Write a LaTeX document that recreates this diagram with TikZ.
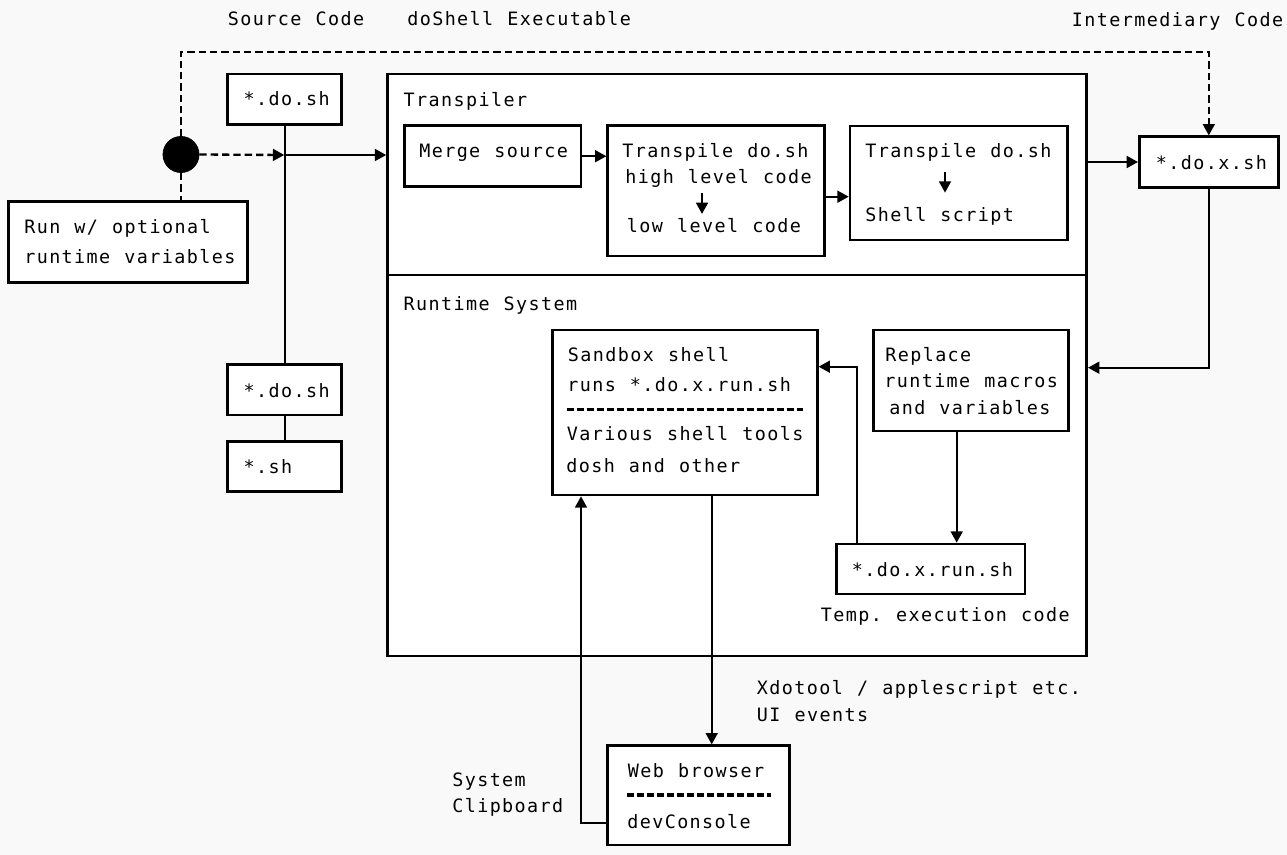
\documentclass[tikz,border=0pt]{standalone}
\usepackage{fontspec}
\newfontfamily\dgfont{DejaVu Sans Mono}[LetterSpace=7.7,WordSpace=1.13]
\usetikzlibrary{arrows.meta,fit}
\definecolor{bg}{RGB}{249,249,249}
\begin{document}
\begin{tikzpicture}[x=0.75pt,y=-0.75pt,
  box/.style={draw=black, line width=1.9pt, fill=white, inner sep=0pt},
  lbl/.style={inner sep=0pt, anchor=base west, font=\dgfont\fontsize{13.8pt}{16pt}\selectfont\frenchspacing},
  conn/.style={line width=1.75pt},
  arr/.style={conn, -{Triangle[length=8.5pt,width=8.8pt]}},
  dsh/.style={dash pattern=on 5.5pt off 3pt},
  sepline/.style={line width=2.3pt, dash pattern=on 5.6pt off 1.9pt}
]
\fill[bg] (0,0) rectangle (1287,855);
\useasboundingbox (0,0) rectangle (1287,855);

% boxes
\node[box, fit={(387.5,74) (1086.7,656)}] (big) {};
\coordinate (dv) at (0,275);
\draw[line width=1.9pt] (big.west |- dv) -- (big.east |- dv);
\node[box, fit={(227.7,74) (341.7,124.3)}] (src1) {};
\node[box, fit={(8.3,201.7) (247.7,282.3)}] (run) {};
\node[box, fit={(227.7,364.3) (341.7,415)}] (src2) {};
\node[box, fit={(227.7,441.7) (341.7,491.7)}] (src3) {};
\node[box, fit={(404.3,125.7) (581,186.7)}] (merge) {};
\node[box, fit={(607.7,125.7) (824.3,256)}] (trans) {};
\node[box, fit={(850,126) (1067.3,240)}] (shell) {};
\node[box, fit={(1139.3,136.7) (1278.3,187.3)}] (dox) {};
\node[box, fit={(552.7,330) (817.3,495)}] (sand) {};
\node[box, fit={(873.3,330) (1068.7,431)}] (repl) {};
\node[box, fit={(836.7,544) (1025,594)}] (runsh) {};
\node[box, fit={(607.7,745.7) (789.3,845)}] (web) {};
\node[circle, fill=black, draw=black, line width=0.6pt, inner sep=0pt, minimum size=27pt] (dot) at (181,154.5) {};

% labels
\node[lbl] (lsrc) at (227.7,26) {Source Code};
\node[lbl] (lexe) at (407,26) {doShell Executable};
\node[lbl] (lint) at (1071.7,26.7) {Intermediary Code};
\node[lbl] (tsrc1) at (243.3,106) {*.do.sh};
\node[lbl] (trun1) at (24,233.3) {Run w/ optional};
\node[lbl] (trun2) at (24,264) {runtime variables};
\node[lbl] (tsrc2) at (243.3,397.3) {*.do.sh};
\node[lbl] (tsrc3) at (243.3,473.3) {*.sh};
\node[lbl] (ttrp) at (403.3,106.7) {Transpiler};
\node[lbl] (trt) at (403.3,310.7) {Runtime System};
\node[lbl] (tmerge) at (419,157.7) {Merge source};
\node[lbl] (ttr1) at (622,158) {Transpile do.sh};
\node[lbl] (ttr2) at (625,183.3) {high level code};
\node[lbl] (ttr3) at (626.7,232.7) {low level code};
\node[lbl] (tsh1) at (865,157.7) {Transpile do.sh};
\node[lbl] (tsh2) at (865,221.7) {Shell script};
\node[lbl] (tdox) at (1155.7,169.3) {*.do.x.sh};
\node[lbl] (tsb1) at (567.7,361.7) {Sandbox shell};
\node[lbl] (tsb2) at (567,391) {runs *.do.x.run.sh};
\node[lbl] (tsb3) at (566.7,440) {Various shell tools};
\node[lbl] (tsb4) at (566,472.7) {dosh and other};
\node[lbl] (trp1) at (885,361.7) {Replace};
\node[lbl] (trp2) at (884,387.7) {runtime macros};
\node[lbl] (trp3) at (889,414) {and variables};
\node[lbl] (trs) at (851.7,576) {*.do.x.run.sh};
\node[lbl] (ttemp) at (820.6,621.7) {Temp. execution code};
\node[lbl] (twb1) at (627.7,777.7) {Web browser};
\node[lbl] (twb2) at (627,828.3) {devConsole};
\node[lbl] (txd1) at (756.7,694) {Xdotool / applescript etc.};
\node[lbl] (txd2) at (756.7,721.7) {UI events};
\node[lbl] (tcl1) at (452,786.7) {System};
\node[lbl] (tcl2) at (452,812.7) {Clipboard};

% separators inside boxes
\coordinate (s1a) at (566.7,409.3); \coordinate (s1b) at (803,409.3);
\draw[sepline] (s1a) -- (s1b);
\coordinate (s2a) at (626.7,795); \coordinate (s2b) at (770.7,795);
\draw[sepline] (s2a) -- (s2b);

% small arrows inside boxes
\coordinate (a1a) at (702,193.3); \coordinate (a1b) at (702,214);
\draw[arr] (a1a) -- (a1b);
\coordinate (a2a) at (945,172.3); \coordinate (a2b) at (945,192.7);
\draw[arr] (a2a) -- (a2b);

% connectors
\coordinate (j1) at (284.3,155);
\draw[dsh, arr] (dot.east) -- (j1);
\draw[arr] (j1) -- (j1 -| big.west);
\draw[conn] (src1.south) -- (src2.north);
\draw[conn] (src2.south) -- (src3.north);
\draw[dsh, conn] (dot.south) -- (dot.south |- run.north);
\coordinate (ty) at (0,51.7);
\draw[dsh, arr] (dot.north) |- (dox.north |- ty) -- (dox.north);
\draw[arr] (merge.east) -- (merge.east -| trans.west);
\coordinate (y197) at (0,196.7);
\draw[arr] (trans.east |- y197) -- (shell.west |- y197);
\draw[arr] (dox.west -| big.east) -- (dox.west);
\coordinate (y368) at (0,367.7);
\draw[arr] (dox.south) |- (big.east |- y368);
\coordinate (x957) at (956.7,0);
\draw[arr] (repl.south -| x957) -- (runsh.north -| x957);
\coordinate (x857) at (857.3,0);
\coordinate (y367) at (0,366.7);
\draw[arr] (runsh.north -| x857) |- (sand.east |- y367);
\coordinate (x712) at (711.7,0);
\draw[arr] (sand.south -| x712) -- (web.north -| x712);
\coordinate (x581) at (581,0);
\coordinate (y823) at (0,823.3);
\draw[arr] (web.west |- y823) -| (sand.south -| x581);
\end{tikzpicture}
\end{document}
